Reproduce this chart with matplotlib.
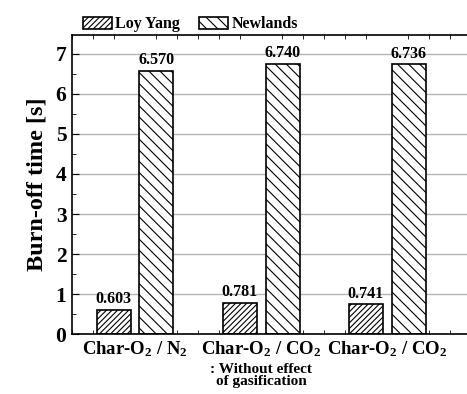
import matplotlib
matplotlib.use("Agg")
import matplotlib.pyplot as plt
from matplotlib.ticker import MultipleLocator
import numpy as np

categories = ["Char-O$_2$ / N$_2$", "Char-O$_2$ / CO$_2$", "Char-O$_2$ / CO$_2$"]
sub_note = ": Without effect\nof gasification"
loy_yang = [0.603, 0.781, 0.741]
newlands = [6.570, 6.740, 6.736]
series_names = ["Loy Yang", "Newlands"]

plt.rcParams['font.family'] = ['Liberation Serif']
plt.rcParams['font.weight'] = 'bold'
plt.rcParams['mathtext.fontset'] = 'custom'
plt.rcParams['mathtext.rm'] = 'Liberation Serif:bold'
plt.rcParams['mathtext.it'] = 'Liberation Serif:bold'
plt.rcParams['mathtext.bf'] = 'Liberation Serif:bold'
plt.rcParams['hatch.linewidth'] = 0.8

fig = plt.figure(figsize=(4.67, 3.94), dpi=100)
ax = fig.add_axes([0.154, 0.152, 0.87, 0.759])

x = np.arange(len(categories))
w = 0.27
off = 0.17
b1 = ax.bar(x - off, loy_yang, w, color='white', edgecolor='black', hatch='//////', linewidth=1.2, zorder=2, label=series_names[0])
b2 = ax.bar(x + off, newlands, w, color='white', edgecolor='black', hatch='\\\\\\', linewidth=1.2, zorder=2, label=series_names[1])

for xi, v in zip(x - off, loy_yang):
    ax.text(xi, v + 0.07, f"{v:.3f}", ha='center', va='bottom', fontsize=11.5, fontweight='bold', zorder=3)
for xi, v in zip(x + off, newlands):
    ax.text(xi, v + 0.07, f"{v:.3f}", ha='center', va='bottom', fontsize=11.5, fontweight='bold', zorder=3)

ax.set_ylim(0, 7.47)
ax.set_xlim(-0.5, 2.72)
ax.yaxis.set_major_locator(MultipleLocator(1))
ax.yaxis.set_minor_locator(MultipleLocator(0.5))
ax.xaxis.set_minor_locator(MultipleLocator(1/6))
ax.set_xticks(x)
ax.set_xticklabels(categories, fontsize=13.5, fontweight='bold')
ax.tick_params(axis='x', which='major', length=0, pad=4)
ax.tick_params(axis='x', which='minor', direction='in', top=True, bottom=True, length=3)
ax.tick_params(axis='y', which='both', direction='in', left=True, right=False)
ax.tick_params(axis='y', which='major', length=5, labelsize=15.5, pad=4)
ax.tick_params(axis='y', which='minor', length=3)
for lab in ax.get_yticklabels():
    lab.set_fontweight('bold')
ax.grid(axis='y', which='major', color='#b4b4b4', linewidth=1.0, zorder=0)
ax.set_axisbelow(True)
for s in ax.spines.values():
    s.set_linewidth(1.2)
ax.spines['right'].set_visible(False)

ax.set_ylabel("Burn-off time [s]", fontsize=17.5, fontweight='bold', labelpad=6)

ax.text(1, -0.095, sub_note, transform=ax.get_xaxis_transform(), ha='center', va='top', fontsize=11, fontweight='bold', linespacing=0.95)

leg = fig.legend(handles=[b1, b2], loc='upper left', bbox_to_anchor=(0.148, 0.995), ncol=2, frameon=False,
                 fontsize=11.5, handlelength=1.8, handleheight=0.8, columnspacing=1.2, handletextpad=0.2)
for t in leg.get_texts():
    t.set_fontweight('bold')

fig.savefig("out.png", dpi=100)
